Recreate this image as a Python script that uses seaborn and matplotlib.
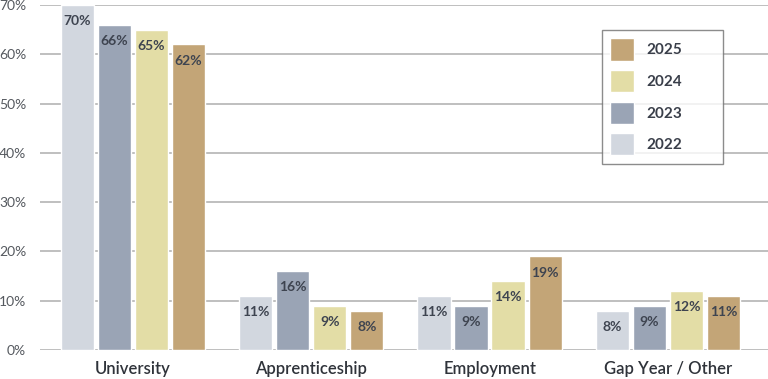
import pandas as pd
import matplotlib.pyplot as plt
import seaborn as sns
from matplotlib.ticker import PercentFormatter

categories = ["University", "Apprenticeship", "Employment", "Gap Year / Other"]
years = ["2022", "2023", "2024", "2025"]
v2022 = [70, 11, 11, 8]
v2023 = [66, 16, 9, 9]
v2024 = [65, 9, 14, 12]
v2025 = [62, 8, 19, 11]
colors = ["#d2d7df", "#9aa4b5", "#e3dda6", "#c3a577"]

rows = []
for yr, vals in zip(years, [v2022, v2023, v2024, v2025]):
    for cat, v in zip(categories, vals):
        rows.append({"destination": cat, "year": yr, "pct": v})
df = pd.DataFrame(rows)

sns.set_style("white")
plt.rcParams["font.family"] = ["Lato", "DejaVu Sans"]

fig = plt.figure(figsize=(7.68, 3.79), dpi=100)
ax = fig.add_axes([40 / 768, 29 / 379, 728 / 768, 345 / 379])

sns.barplot(data=df, x="destination", y="pct", hue="year", order=categories,
            hue_order=years, palette=colors, width=0.83, gap=0.1,
            saturation=1, ax=ax, zorder=3)

for cont in ax.containers:
    ax.bar_label(cont, labels=[f"{int(b.get_height())}%" for b in cont],
                 padding=-16, fontsize=10, fontweight="bold", color="#3e4450")

ax.set_ylim(0, 70)
ax.set_xlim(-0.52, 3.56)
ax.set_yticks(range(0, 71, 10))
ax.yaxis.set_major_formatter(PercentFormatter(decimals=0))
ax.grid(axis="y", color="#b4b4b4", linewidth=1.2, zorder=0)
for s in ax.spines.values():
    s.set_visible(False)
ax.set_xlabel("")
ax.set_ylabel("")
ax.tick_params(axis="y", length=0, pad=10, labelsize=10, labelcolor="#55595f")
ax.tick_params(axis="x", length=0, pad=8, labelsize=12, labelcolor="#2f333a")
for t in ax.get_xticklabels():
    t.set_fontweight("semibold")

handles, labels = ax.get_legend_handles_labels()
leg = ax.legend(handles[::-1], labels[::-1], loc="upper left",
                bbox_to_anchor=(0.772, 0.9275, 0.166, 0.0), mode="expand",
                frameon=True, fancybox=False,
                handlelength=1.57, handleheight=1.85, labelspacing=0.62,
                handletextpad=0.8, borderpad=0.55, borderaxespad=0,
                prop={"size": 11, "weight": "bold"})
leg.get_frame().set_edgecolor("#6f6f6f")
leg.get_frame().set_linewidth(1.0)
for t in leg.get_texts():
    t.set_color("#3a3f4a")

fig.savefig("out.png", dpi=100)
